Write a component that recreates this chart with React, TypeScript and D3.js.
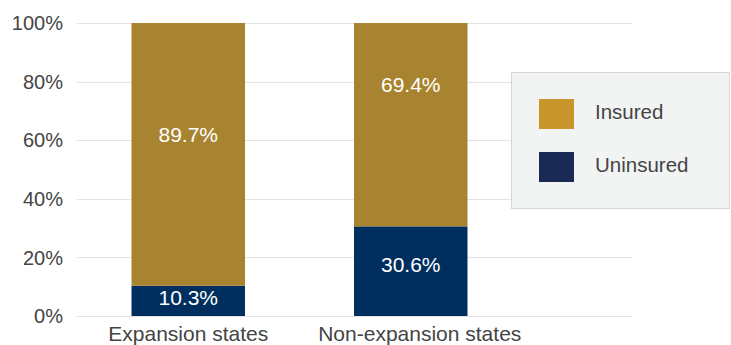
import React from "react";
import * as d3 from "d3";

const categories = ["Expansion states", "Non-expansion states"];
const uninsured = [10.3, 30.6];
const insured = [89.7, 69.4];
const seriesNames = ["Insured", "Uninsured"];
const yTicks = [0, 20, 40, 60, 80, 100];

// label anchor fraction within each segment (layout)
const uninsuredLabelFrac = [0.63, 0.575];
const insuredLabelFrac = [0.575, 0.7];
// category label horizontal nudge (layout)
const catLabelNudge = [0, 9];

const W = 731;
const H = 345;
const FONT = "'Liberation Sans', Arial, Helvetica, sans-serif";
const barInsured = "#a88430";
const barUninsured = "#002f5f";
const legInsured = "#c9962e";
const legUninsured = "#1b2a55";

export default function App() {
  const y = d3.scaleLinear().domain([0, 100]).range([316, 23]);
  const x = d3
    .scaleBand<string>()
    .domain(categories)
    .range([77, 522])
    .paddingInner(0.49)
    .paddingOuter(0.245);
  const gridX0 = 77;
  const gridX1 = 632;

  return (
    <svg
      width={W}
      height={H}
      style={{ position: "absolute", left: 0, top: 0, display: "block" }}
      fontFamily={FONT}
    >
      <rect x={0} y={0} width={W} height={H} fill="#fff" />
      {yTicks.map((t) => (
        <g key={t}>
          <line
            x1={gridX0}
            x2={gridX1}
            y1={Math.round(y(t)) + 0.5}
            y2={Math.round(y(t)) + 0.5}
            stroke="#e3e3e3"
            strokeWidth={1.2}
          />
          <text
            x={63}
            y={y(t)}
            dy="0.36em"
            textAnchor="end"
            fontSize={20}
            fill="#444"
          >
            {t}%
          </text>
        </g>
      ))}
      {categories.map((c, i) => {
        const bx = x(c)!;
        const bw = x.bandwidth();
        const u = uninsured[i];
        const ins = insured[i];
        return (
          <g key={c}>
            <rect
              x={bx}
              y={y(u)}
              width={bw}
              height={y(0) - y(u)}
              fill={barUninsured}
            />
            <rect
              x={bx}
              y={y(u + ins)}
              width={bw}
              height={y(u) - y(u + ins)}
              fill={barInsured}
            />
            <text
              x={bx + bw / 2}
              y={y(u * uninsuredLabelFrac[i])}
              dy="0.36em"
              textAnchor="middle"
              fontSize={21}
              fill="#fff"
            >
              {u.toFixed(1)}%
            </text>
            <text
              x={bx + bw / 2}
              y={y(u + ins * insuredLabelFrac[i])}
              dy="0.36em"
              textAnchor="middle"
              fontSize={21}
              fill="#fff"
            >
              {ins.toFixed(1)}%
            </text>
            <text
              x={bx + bw / 2 + catLabelNudge[i]}
              y={341}
              textAnchor="middle"
              fontSize={21}
              fill="#444"
            >
              {c}
            </text>
          </g>
        );
      })}
      <g>
        <rect
          x={511.5}
          y={72.5}
          width={218}
          height={136}
          fill="#f2f3f3"
          stroke="#d6d6d6"
          strokeWidth={1}
        />
        {seriesNames.map((s, i) => (
          <g key={s} transform={`translate(539, ${99 + i * 53})`}>
            <rect
              x={0}
              y={0}
              width={35}
              height={30}
              fill={i === 0 ? legInsured : legUninsured}
            />
            <text x={56} y={13} dy="0.36em" fontSize={20.5} fill="#444">
              {s}
            </text>
          </g>
        ))}
      </g>
    </svg>
  );
}
